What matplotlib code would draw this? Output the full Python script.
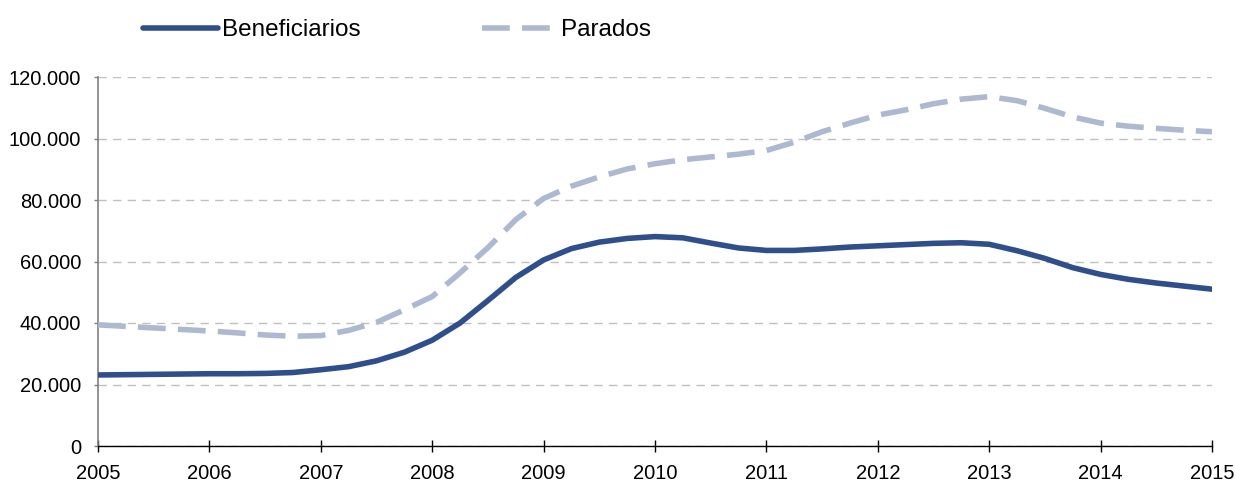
import matplotlib
matplotlib.use("Agg")
import matplotlib.pyplot as plt
from matplotlib.ticker import FuncFormatter, MultipleLocator

plt.rcParams['font.family'] = ['Liberation Sans', 'DejaVu Sans']

# Quarterly time points 2005.00 .. 2015.00
years = [2005 + q * 0.25 for q in range(41)]

beneficiarios = [
    23100, 23200, 23300, 23400,
    23500, 23500, 23600, 23900,
    24800, 25800, 27700, 30500,
    34400, 40000, 47300, 54800,
    60500, 64200, 66300, 67500,
    68100, 67700, 66000, 64400,
    63600, 63600, 64100, 64700,
    65100, 65500, 65900, 66100,
    65600, 63500, 61000, 58000,
    55800, 54200, 53000, 52000,
    51000,
]

parados = [
    39400, 38900, 38400, 37900,
    37400, 36800, 36100, 35700,
    35900, 37600, 40200, 44300,
    48600, 56300, 64500, 73600,
    80500, 84500, 87500, 90100,
    91800, 93100, 94000, 94900,
    96100, 98800, 102200, 105000,
    107600, 109300, 111300, 112800,
    113600, 112300, 109800, 107000,
    105000, 104000, 103300, 102700,
    102200,
]

xticks = list(range(2005, 2016))
series_names = ["Beneficiarios", "Parados"]

c_ben = "#2E4F8C"
c_par = "#ADB9D1"

fig = plt.figure(figsize=(12.36, 4.82), dpi=100)
ax = fig.add_axes([98 / 1236, 1 - 446 / 482, (1212 - 98) / 1236, (446 - 77) / 482])

ax.plot(years, beneficiarios, color=c_ben, lw=4.0, solid_capstyle='round',
        solid_joinstyle='round', label=series_names[0], zorder=3)
ax.plot(years, parados, color=c_par, lw=4.0, dashes=(5, 2.2),
        dash_joinstyle='round', label=series_names[1], zorder=3)

ax.set_xlim(2005, 2015)
ax.set_ylim(0, 120000)
ax.set_xticks(xticks)
ax.yaxis.set_major_locator(MultipleLocator(20000))
ax.yaxis.set_major_formatter(FuncFormatter(lambda v, p: f"{int(v):,}".replace(",", ".")))

ax.grid(axis='y', color="#C0C0C0", lw=1.0, linestyle=(0, (6, 4.5)))
ax.set_axisbelow(True)

for s in ['top', 'right']:
    ax.spines[s].set_visible(False)
ax.spines['left'].set_color("#808080")
ax.spines['left'].set_linewidth(1.2)
ax.spines['bottom'].set_color("#000000")
ax.spines['bottom'].set_linewidth(1.0)

ax.tick_params(axis='y', direction='out', length=3, width=1, color="#808080",
               labelsize=14.5, pad=9, labelcolor="#000000")
ax.tick_params(axis='x', direction='inout', length=8, width=1, color="#000000",
               labelsize=14.5, pad=9, labelcolor="#000000")

leg = fig.legend(loc='center left', bbox_to_anchor=(143 / 1236, 1 - 30 / 482),
                 ncol=2, frameon=False, fontsize=17.5, handlelength=3.1,
                 handletextpad=0.15, columnspacing=5.0, borderaxespad=0,
                 borderpad=0)

fig.savefig("out.png", dpi=100)
